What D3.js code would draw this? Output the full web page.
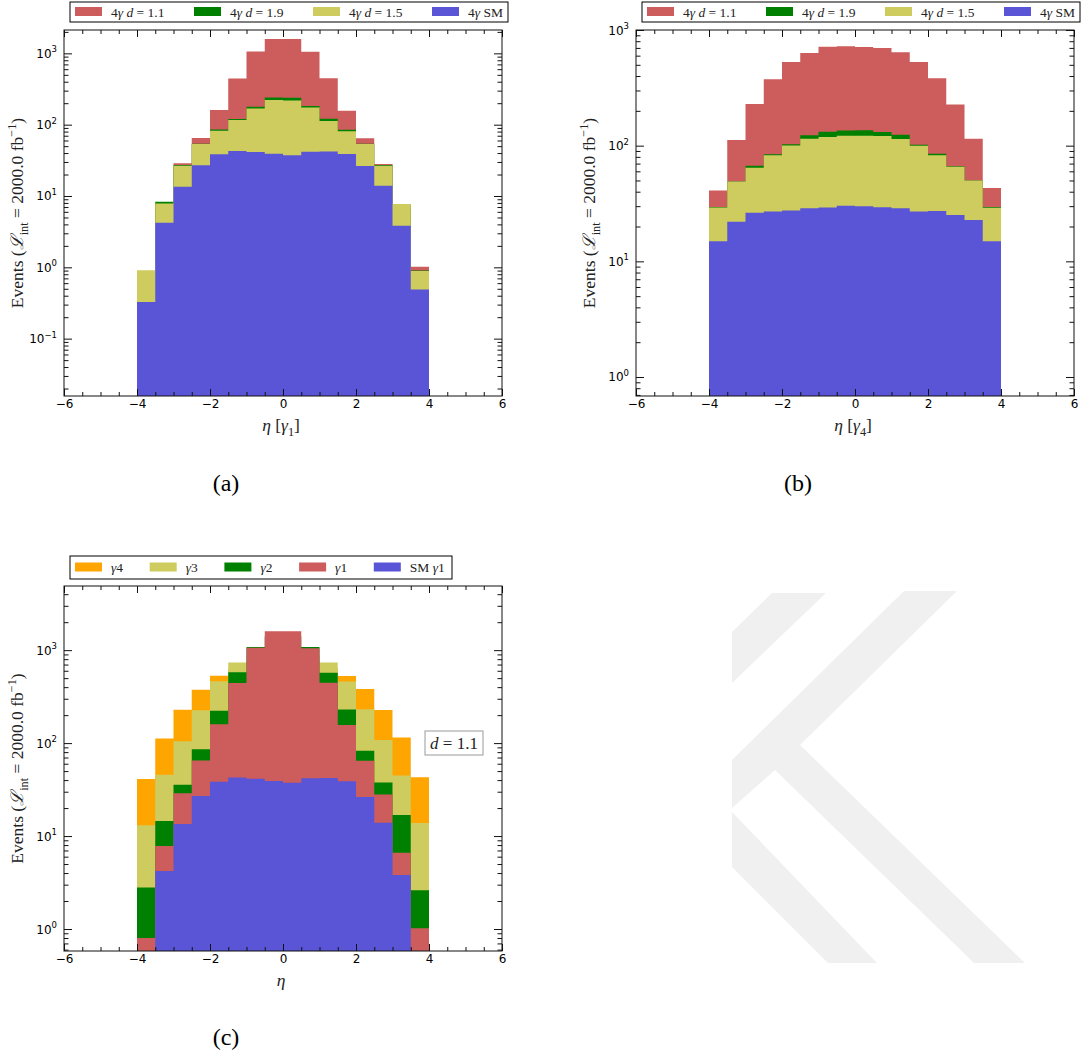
<!DOCTYPE html>
<html>
<head>
<meta charset="utf-8">
<script src="https://cdn.jsdelivr.net/npm/d3@7"></script>
<style>
  body { margin: 0; background: #fff; }
  svg { display: block; }
</style>
</head>
<body>
<svg id="fig" width="1085" height="1059"></svg>
<script>
// bin edges in eta
const edges = [-4, -3.5, -3, -2.5, -2, -1.5, -1, -0.5, 0, 0.5, 1, 1.5, 2, 2.5, 3, 3.5, 4]

// eta of leading photon (gamma1)
const g1_d11 = [0.8, 7.8, 28.8, 65, 160, 443, 1060, 1595, 1595, 1050, 447, 157, 64.5, 28, 6.6, 1.02]
const g1_d19 = [0.8, 8.3, 27.2, 54, 85.7, 120, 178, 241, 238, 182, 121, 85, 54, 27.2, 7.6, 0.9]
const g1_d15 = [0.91, 7.85, 26.5, 53.4, 82, 116, 169, 221, 219, 174, 113, 81, 53.4, 26.5, 7.7, 0.89]
const g1_sm = [0.327, 4.2, 13.5, 26.9, 38.5, 42.6, 41.4, 39, 37.4, 41.8, 42.2, 38.8, 26.3, 13.9, 3.82, 0.487]

// eta of fourth photon (gamma4)
const g4_d11 = [41, 112, 229, 376, 529, 632, 718, 723, 712, 698, 641, 528, 382, 227, 115, 43]
const g4_d19 = [29.5, 49, 67, 84.5, 103, 123, 132, 135, 136, 131, 124, 102, 85, 66.5, 50, 29.5]
const g4_d15 = [29.2, 49, 64.4, 82.8, 100.5, 115, 119, 122, 122, 121, 114, 99.6, 82.5, 65.6, 50, 29]
const g4_sm = [14.9, 22.0, 26.3, 27.0, 27.5, 28.8, 29.2, 30.2, 30.0, 29.4, 28.8, 27.0, 27.2, 25.2, 22.8, 14.9]

// gamma2, gamma3 for d = 1.1
const g2_d11 = [2.8, 14.5, 35.6, 86, 223, 580, 1080, 1400, 1400, 1080, 570, 230, 83, 37.7, 16.8, 2.62]
const g3_d11 = [13.1, 45.6, 105, 226, 464, 736, 880, 950, 950, 880, 736, 460, 232, 108, 44.9, 13.8]

const xTicks = [-6, -4, -2, 0, 2, 4, 6]
const xMinor = d3.range(-6, 6.01, 0.5)

const RED = '#cd5c5c'
const GREEN = '#008000'
const YELLOW = '#cfcc5f'
const BLUE = '#5a55d6'
const ORANGE = '#ffa500'

const SERIF = "'Liberation Serif', 'DejaVu Serif', serif"
const SANS = "'DejaVu Sans', sans-serif"

const svg = d3.select('#fig')

// append tspans with sub/superscripts and italics
function rich(text, parts, size) {
  let shift = 0
  parts.forEach((p) => {
    const target = p.sub ? size * 0.3 : p.sup ? -size * 0.42 : 0
    const ts = text.append('tspan').attr('dy', target - shift).text(p.t)
    shift = target
    if (p.sub || p.sup) ts.attr('font-size', size * 0.7)
    if (p.i) ts.style('font-style', 'italic')
  })
}

// faint watermark
const watermark = [
  [[772, 593], [826, 593], [732, 683], [732, 632]],
  [[904, 591], [957, 591], [800, 745], [1025, 963], [974, 963], [775, 770], [732, 808], [732, 760]],
  [[732, 812], [877, 963], [828, 963], [732, 867]],
]
svg.append('g').selectAll('path')
  .data(watermark)
  .enter().append('path')
  .attr('d', (d) => 'M' + d.join('L') + 'Z')
  .attr('fill', '#f0f0f0')

function panel(cfg) {
  const g = svg.append('g')
  const x = d3.scaleLinear().domain([-6, 6]).range([cfg.left, cfg.right])
  const y = d3.scaleLog().domain(cfg.ydom).range([cfg.bottom, cfg.top]).clamp(true)

  svg.append('clipPath').attr('id', 'clip-' + cfg.id)
    .append('rect')
    .attr('x', cfg.left).attr('y', cfg.top)
    .attr('width', cfg.right - cfg.left).attr('height', cfg.bottom - cfg.top)

  const area = d3.area()
    .curve(d3.curveStepAfter)
    .x((d) => x(d.x))
    .y0(cfg.bottom)
    .y1((d) => y(d.v))

  const hists = g.append('g').attr('clip-path', `url(#clip-${cfg.id})`)
  cfg.series.forEach((s) => {
    const pts = edges.map((e, i) => ({x: e, v: s.values[Math.min(i, s.values.length - 1)]}))
    hists.append('path')
      .attr('d', area(pts))
      .attr('fill', s.color)
  })

  // ticks on all sides, pointing inwards
  const yMajor = y.ticks().filter((t) => Math.abs(Math.log10(t) - Math.round(Math.log10(t))) < 1e-6)
  const yMinor = y.ticks().filter((t) => yMajor.indexOf(t) < 0)

  const bottom = (sz, vals, lab) => d3.axisBottom(x).tickValues(vals).tickSize(-sz).tickPadding(3)
    .tickFormat(lab ? (d) => (d < 0 ? '\u2212' + Math.abs(d) : d) : '')
  const top = (sz, vals) => d3.axisTop(x).tickValues(vals).tickSize(-sz).tickFormat('')
  const left = (sz, vals) => d3.axisLeft(y).tickValues(vals).tickSize(-sz).tickFormat('')
  const right = (sz, vals) => d3.axisRight(y).tickValues(vals).tickSize(-sz).tickFormat('')

  const axes = [
    [bottom(4, xMinor, false), cfg.bottom, 0],
    [bottom(7, xTicks, true), cfg.bottom, 0],
    [top(4, xMinor), cfg.top, 0],
    [top(7, xTicks), cfg.top, 0],
    [left(4.5, yMinor), 0, cfg.left],
    [left(8, yMajor), 0, cfg.left],
    [right(4.5, yMinor), 0, cfg.right],
    [right(8, yMajor), 0, cfg.right],
  ]
  axes.forEach(([ax, ty, tx]) => {
    const a = g.append('g')
      .attr('transform', `translate(${tx},${ty})`)
      .call(ax)
    a.select('.domain').remove()
    a.selectAll('.tick line').attr('stroke', '#111')
    a.selectAll('.tick text')
      .attr('font-family', SANS)
      .attr('font-size', 12)
      .attr('fill', '#000')
  })

  // y tick labels with exponents
  g.append('g').selectAll('text')
    .data(yMajor)
    .enter().append('text')
    .attr('x', cfg.left - 7)
    .attr('y', (d) => y(d) + 4.5)
    .attr('text-anchor', 'end')
    .attr('font-family', SANS)
    .attr('font-size', 12)
    .each(function(d) {
      const e = Math.round(Math.log10(d))
      const t = d3.select(this)
      t.append('tspan').text('10')
      t.append('tspan').attr('dy', -5.5).attr('font-size', 8.5)
        .text(e < 0 ? '\u2212' + Math.abs(e) : e)
    })

  // frame
  g.append('rect')
    .attr('x', cfg.left).attr('y', cfg.top)
    .attr('width', cfg.right - cfg.left).attr('height', cfg.bottom - cfg.top)
    .attr('fill', 'none')
    .attr('stroke', '#111')
    .attr('stroke-width', 1)

  // axis labels
  const yl = g.append('text')
    .attr('transform', `translate(${cfg.left - 41},${(cfg.top + cfg.bottom) / 2}) rotate(-90)`)
    .attr('text-anchor', 'middle')
    .attr('font-family', SERIF)
    .attr('font-size', 17.5)
    .attr('fill', '#222')
  rich(yl, [
    {t: 'Events ('},
    {t: '\u2112', i: true},
    {t: 'int', sub: true},
    {t: ' = 2000.0 fb'},
    {t: '\u22121', sup: true},
    {t: ')'},
  ], 17.5)

  const xl = g.append('text')
    .attr('x', (cfg.left + cfg.right) / 2 - 2)
    .attr('y', cfg.bottom + 35)
    .attr('text-anchor', 'middle')
    .attr('font-family', SERIF)
    .attr('font-size', 17.5)
    .attr('fill', '#222')
  rich(xl, cfg.xlabel, 17.5)

  // legend
  const lg = g.append('g')
  lg.append('rect')
    .attr('x', cfg.legend.x).attr('y', cfg.legend.y)
    .attr('width', cfg.legend.w).attr('height', cfg.legend.h)
    .attr('fill', '#fff')
    .attr('stroke', '#000')
    .attr('stroke-width', 1)
  const item = lg.selectAll('g.item')
    .data(cfg.legend.items)
    .enter().append('g')
    .attr('class', 'item')
    .attr('transform', (d, i) => `translate(${cfg.legend.x + 5 + i * cfg.legend.step},${cfg.legend.y})`)
  item.append('rect')
    .attr('x', 0)
    .attr('y', cfg.legend.h / 2 - 5)
    .attr('width', 27).attr('height', 9)
    .attr('fill', (d) => d.color)
  item.append('text')
    .attr('x', 36)
    .attr('y', cfg.legend.h / 2 + 4.5)
    .attr('font-family', SERIF)
    .attr('font-size', 13.5)
    .attr('fill', '#222')
    .each(function(d) {
      rich(d3.select(this), d.label, 13.5)
    })

  // caption
  svg.append('text')
    .attr('x', cfg.caption.x)
    .attr('y', cfg.caption.y)
    .attr('text-anchor', 'middle')
    .attr('font-family', SERIF)
    .attr('font-size', 24)
    .text(cfg.caption.t)

  return {x, y, g}
}

const lab4 = (d) => [{t: '4'}, {t: '\u03b3', i: true}, {t: ' '}, {t: 'd', i: true}, {t: ' = ' + d}]
const labSM = [{t: '4'}, {t: '\u03b3', i: true}, {t: ' SM'}]

panel({
  id: 'a', left: 64, right: 502, top: 30, bottom: 396, ydom: [0.0157, 2125],
  series: [
    {values: g1_d11, color: RED},
    {values: g1_d19, color: GREEN},
    {values: g1_d15, color: YELLOW},
    {values: g1_sm, color: BLUE},
  ],
  xlabel: [{t: '\u03b7', i: true}, {t: ' ['}, {t: '\u03b3', i: true}, {t: '1', sub: true}, {t: ']'}],
  legend: {
    x: 70, y: 2, w: 438, h: 20, step: 119,
    items: [
      {color: RED, label: lab4('1.1')},
      {color: GREEN, label: lab4('1.9')},
      {color: YELLOW, label: lab4('1.5')},
      {color: BLUE, label: labSM},
    ],
  },
  caption: {t: '(a)', x: 226, y: 491},
})

panel({
  id: 'b', left: 636, right: 1074, top: 30, bottom: 396, ydom: [0.685, 1000],
  series: [
    {values: g4_d11, color: RED},
    {values: g4_d19, color: GREEN},
    {values: g4_d15, color: YELLOW},
    {values: g4_sm, color: BLUE},
  ],
  xlabel: [{t: '\u03b7', i: true}, {t: ' ['}, {t: '\u03b3', i: true}, {t: '4', sub: true}, {t: ']'}],
  legend: {
    x: 642, y: 2, w: 438, h: 20, step: 119,
    items: [
      {color: RED, label: lab4('1.1')},
      {color: GREEN, label: lab4('1.9')},
      {color: YELLOW, label: lab4('1.5')},
      {color: BLUE, label: labSM},
    ],
  },
  caption: {t: '(b)', x: 798, y: 491},
})

const pc = panel({
  id: 'c', left: 64, right: 502, top: 586, bottom: 951, ydom: [0.58, 4900],
  series: [
    {values: g4_d11, color: ORANGE},
    {values: g3_d11, color: YELLOW},
    {values: g2_d11, color: GREEN},
    {values: g1_d11, color: RED},
    {values: g1_sm, color: BLUE},
  ],
  xlabel: [{t: '\u03b7', i: true}],
  legend: {
    x: 70, y: 556, w: 382, h: 23, step: 74.7,
    items: [
      {color: ORANGE, label: [{t: '\u03b3', i: true}, {t: '4'}]},
      {color: YELLOW, label: [{t: '\u03b3', i: true}, {t: '3'}]},
      {color: GREEN, label: [{t: '\u03b3', i: true}, {t: '2'}]},
      {color: RED, label: [{t: '\u03b3', i: true}, {t: '1'}]},
      {color: BLUE, label: [{t: 'SM '}, {t: '\u03b3', i: true}, {t: '1'}]},
    ],
  },
  caption: {t: '(c)', x: 226, y: 1045},
})

// d = 1.1 annotation box
const ann = pc.g.append('g')
ann.append('rect')
  .attr('x', 425).attr('y', 731)
  .attr('width', 58).attr('height', 24)
  .attr('fill', '#fff')
  .attr('stroke', '#999')
  .attr('stroke-width', 1)
const at = ann.append('text')
  .attr('x', 454).attr('y', 748.5)
  .attr('text-anchor', 'middle')
  .attr('font-family', SERIF)
  .attr('font-size', 17)
  .attr('fill', '#222')
rich(at, [{t: 'd', i: true}, {t: ' = 1.1'}], 17)
</script>
</body>
</html>
